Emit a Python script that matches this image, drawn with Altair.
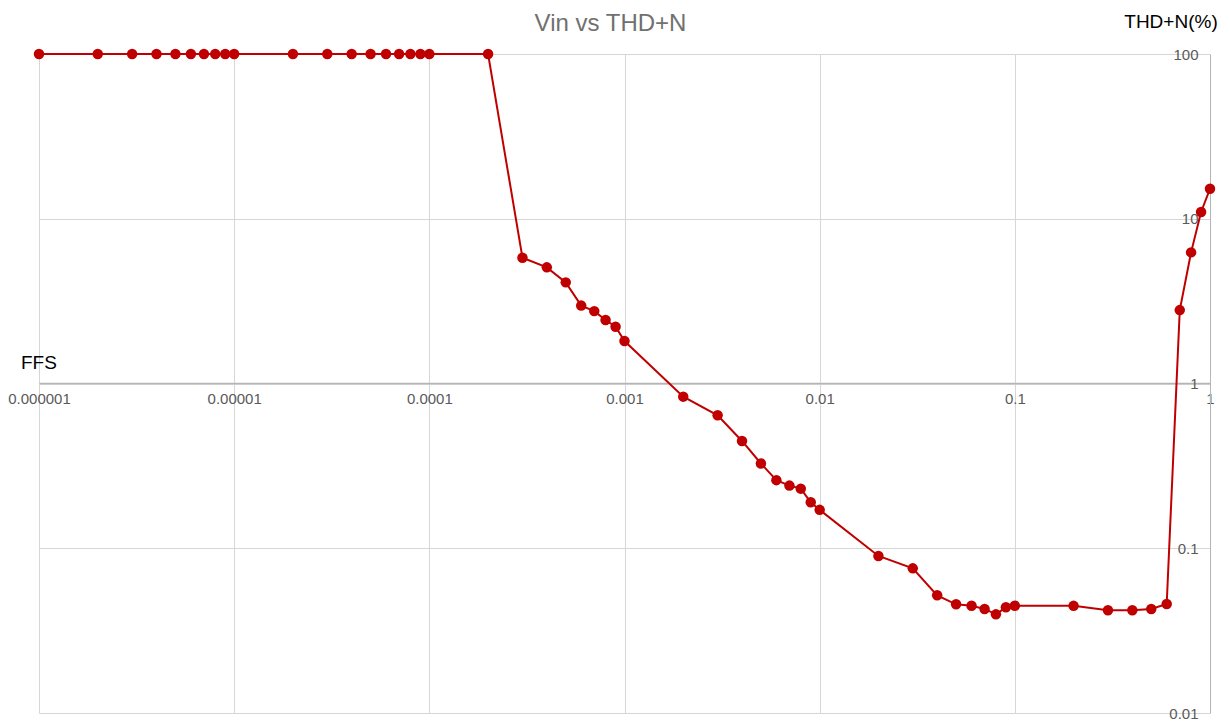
import altair as alt
import pandas as pd

vin = [1e-6, 2e-6, 3e-6, 4e-6, 5e-6, 6e-6, 7e-6, 8e-6, 9e-6,
       1e-5, 2e-5, 3e-5, 4e-5, 5e-5, 6e-5, 7e-5, 8e-5, 9e-5,
       1e-4, 2e-4, 3e-4, 4e-4, 5e-4, 6e-4, 7e-4, 8e-4, 9e-4,
       1e-3, 2e-3, 3e-3, 4e-3, 5e-3, 6e-3, 7e-3, 8e-3, 9e-3,
       0.01, 0.02, 0.03, 0.04, 0.05, 0.06, 0.07, 0.08, 0.09,
       0.1, 0.2, 0.3, 0.4, 0.5, 0.6, 0.7, 0.8, 0.9, 1.0]
thdn = [100, 100, 100, 100, 100, 100, 100, 100, 100,
        100, 100, 100, 100, 100, 100, 100, 100, 100,
        100, 100, 5.8, 5.07, 4.11, 2.97, 2.75, 2.43, 2.21,
        1.81, 0.832, 0.641, 0.448, 0.327, 0.259, 0.240, 0.230, 0.190,
        0.171, 0.0898, 0.0755, 0.0518, 0.0457, 0.0448, 0.0428, 0.0397, 0.0438,
        0.0448, 0.0447, 0.0420, 0.0420, 0.0428, 0.0459, 2.79, 6.25, 11.0, 15.2]

x_ticks = [1e-6, 1e-5, 1e-4, 1e-3, 1e-2, 1e-1, 1]
y_ticks = [0.01, 0.1, 1, 10, 100]

df = pd.DataFrame({"vin": vin, "thdn": thdn})

W, H = 1171, 659
FONT = "Liberation Sans"
RED = "#c00000"

x = alt.X("vin:Q",
          scale=alt.Scale(type="log", domain=[1e-6, 1], nice=False),
          axis=alt.Axis(orient="bottom", offset=-330, values=x_ticks, format="~f",
                        grid=True, gridColor="#d6d6d6", domainColor="#b5b5b5",
                        domainWidth=1.5,
                        tickSize=0, labelPadding=8, labelColor="#5a5a5a",
                        labelFontSize=15, labelFont=FONT, labelFlush=False,
                        title="FFS", titleFont=FONT, titleFontSize=19,
                        titleFontWeight="normal", titleColor="#000000",
                        titleAlign="left", titleBaseline="middle",
                        titleX=-18.5, titleY=-21))
y = alt.Y("thdn:Q",
          scale=alt.Scale(type="log", domain=[0.01, 100], nice=False),
          axis=alt.Axis(orient="left", offset=-W, values=y_ticks, format="~f",
                        grid=True, gridColor="#d6d6d6", domainColor="#b5b5b5",
                        tickSize=0, labelPadding=12, labelColor="#5a5a5a",
                        labelFontSize=15, labelFont=FONT, labelFlush=False,
                        title="THD+N(%)", titleFont=FONT, titleFontSize=19,
                        titleFontWeight="normal", titleColor="#000000",
                        titleAngle=0, titleAlign="center", titleBaseline="middle",
                        titleX=-39.5, titleY=-33))

base = alt.Chart(df)
line = base.mark_line(color=RED, strokeWidth=2).encode(x=x, y=y)
pts = base.mark_circle(color=RED, size=110, opacity=1).encode(x=x, y=y)

chart = (line + pts).properties(
    width=W, height=H,
    title=alt.TitleParams("Vin vs THD+N", font=FONT, fontSize=24, fontWeight="normal",
                          color="#707070", anchor="middle", offset=-21, dx=-14, dy=3),
    autosize=alt.AutoSizeParams(type="none"),
    padding={"left": 31, "top": 46, "right": 12, "bottom": 12},
).configure_view(stroke=None)

chart.save("out.html", embed_options={"renderer": "svg", "actions": False})
